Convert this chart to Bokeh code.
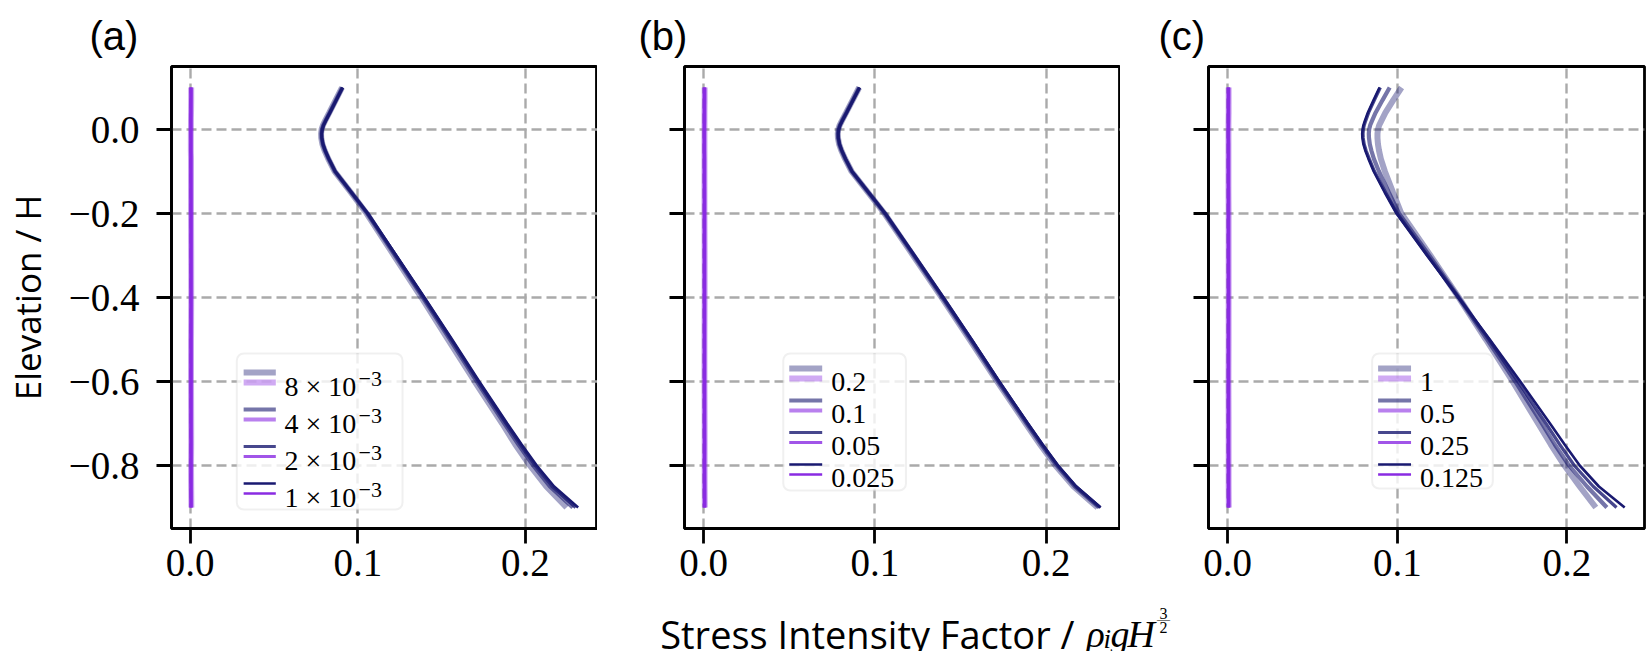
from bokeh.plotting import figure
from bokeh.layouts import row, column
from bokeh.models import (FixedTicker, CustomJSTickFormatter, Range1d,
                          BoxAnnotation, ColumnDataSource)
from bokeh.core.properties import value
from bokeh.embed import file_html
from bokeh.resources import INLINE

# ---------------- data ----------------
elevation = [0.1, 0.07, 0.04, 0.02, 0.01, 0.0, -0.01, -0.02, -0.035, -0.05, -0.07, -0.1,
             -0.15, -0.2, -0.3, -0.4, -0.5, -0.6, -0.7, -0.75, -0.8, -0.85, -0.9]

x_ticks = [0.0, 0.1, 0.2]
y_ticks = [-0.8, -0.6, -0.4, -0.2, 0.0]

# panel (a): 8e-3, 4e-3, 2e-3, 1e-3
a_labels = ["8 × 10", "4 × 10", "2 × 10", "1 × 10"]
a_exponents = ["−3", "−3", "−3", "−3"]
a_k1_8e3 = [0.0906, 0.0868, 0.0830, 0.0804, 0.0792, 0.0784, 0.0781, 0.0782, 0.0789, 0.0802,
            0.0824, 0.0862, 0.0959, 0.1053, 0.1216, 0.1380, 0.1538, 0.1698, 0.1862, 0.1940,
            0.2027, 0.2125, 0.2246]
a_k1_4e3 = [0.0908, 0.0870, 0.0832, 0.0806, 0.0794, 0.0786, 0.0783, 0.0784, 0.0791, 0.0804,
            0.0826, 0.0864, 0.0961, 0.1057, 0.1223, 0.1389, 0.1551, 0.1711, 0.1875, 0.1959,
            0.2047, 0.2147, 0.2283]
a_k1_2e3 = [0.0909, 0.0871, 0.0833, 0.0807, 0.0795, 0.0787, 0.0784, 0.0785, 0.0792, 0.0805,
            0.0827, 0.0865, 0.0962, 0.1059, 0.1227, 0.1394, 0.1558, 0.1719, 0.1885, 0.1970,
            0.2059, 0.2160, 0.2300]
a_k1_1e3 = [0.0910, 0.0872, 0.0834, 0.0808, 0.0796, 0.0788, 0.0785, 0.0786, 0.0793, 0.0806,
            0.0828, 0.0866, 0.0963, 0.1060, 0.1230, 0.1398, 0.1563, 0.1725, 0.1892, 0.1978,
            0.2068, 0.2172, 0.2315]
a_k2_8e3 = [0.0006, 0.0006, 0.0005, 0.0005, 0.0005, 0.0005, 0.0004, 0.0004, 0.0004, 0.0004,
            0.0005, 0.0005, 0.0005, 0.0005, 0.0006, 0.0006, 0.0005, 0.0005, 0.0006, 0.0006,
            0.0005, 0.0006, 0.0007]
a_k2_4e3 = [0.0005, 0.0005, 0.0005, 0.0004, 0.0004, 0.0004, 0.0004, 0.0004, 0.0004, 0.0004,
            0.0005, 0.0005, 0.0005, 0.0005, 0.0005, 0.0006, 0.0005, 0.0005, 0.0005, 0.0006,
            0.0005, 0.0005, 0.0006]
a_k2_2e3 = [0.0005, 0.0005, 0.0004, 0.0004, 0.0004, 0.0004, 0.0004, 0.0004, 0.0004, 0.0004,
            0.0004, 0.0004, 0.0005, 0.0005, 0.0005, 0.0005, 0.0005, 0.0005, 0.0005, 0.0005,
            0.0005, 0.0005, 0.0006]
a_k2_1e3 = [0.0005, 0.0004, 0.0004, 0.0004, 0.0004, 0.0004, 0.0004, 0.0004, 0.0004, 0.0004,
            0.0004, 0.0004, 0.0004, 0.0005, 0.0005, 0.0005, 0.0005, 0.0005, 0.0005, 0.0005,
            0.0005, 0.0005, 0.0005]

# panel (b): 0.2, 0.1, 0.05, 0.025
b_labels = ["0.2", "0.1", "0.05", "0.025"]
b_k1_02 = [0.0908, 0.0870, 0.0832, 0.0806, 0.0794, 0.0786, 0.0783, 0.0784, 0.0791, 0.0804,
           0.0826, 0.0864, 0.0960, 0.1056, 0.1223, 0.1390, 0.1553, 0.1714, 0.1880, 0.1964,
           0.2054, 0.2160, 0.2300]
b_k1_01 = [0.0909, 0.0871, 0.0833, 0.0807, 0.0795, 0.0787, 0.0784, 0.0785, 0.0792, 0.0805,
           0.0827, 0.0865, 0.0962, 0.1058, 0.1227, 0.1394, 0.1558, 0.1719, 0.1886, 0.1971,
           0.2061, 0.2167, 0.2309]
b_k1_005 = [0.0910, 0.0872, 0.0834, 0.0808, 0.0796, 0.0788, 0.0785, 0.0786, 0.0793, 0.0806,
            0.0828, 0.0866, 0.0963, 0.1060, 0.1230, 0.1398, 0.1563, 0.1724, 0.1891, 0.1977,
            0.2067, 0.2173, 0.2315]
b_k1_0025 = [0.0911, 0.0873, 0.0835, 0.0809, 0.0797, 0.0789, 0.0786, 0.0787, 0.0794, 0.0807,
             0.0829, 0.0867, 0.0964, 0.1061, 0.1231, 0.1399, 0.1564, 0.1726, 0.1893, 0.1979,
             0.2069, 0.2176, 0.2318]
b_k2_02 = [0.0006, 0.0006, 0.0005, 0.0005, 0.0005, 0.0005, 0.0005, 0.0005, 0.0005, 0.0005,
           0.0005, 0.0005, 0.0005, 0.0005, 0.0006, 0.0006, 0.0005, 0.0005, 0.0006, 0.0006,
           0.0006, 0.0006, 0.0007]
b_k2_01 = [0.0005, 0.0005, 0.0005, 0.0005, 0.0004, 0.0004, 0.0004, 0.0004, 0.0004, 0.0004,
           0.0005, 0.0005, 0.0005, 0.0005, 0.0005, 0.0005, 0.0005, 0.0005, 0.0005, 0.0006,
           0.0005, 0.0006, 0.0006]
b_k2_005 = [0.0005, 0.0005, 0.0004, 0.0004, 0.0004, 0.0004, 0.0004, 0.0004, 0.0004, 0.0004,
            0.0004, 0.0004, 0.0005, 0.0005, 0.0005, 0.0005, 0.0005, 0.0005, 0.0005, 0.0005,
            0.0005, 0.0005, 0.0006]
b_k2_0025 = [0.0005, 0.0004, 0.0004, 0.0004, 0.0004, 0.0004, 0.0004, 0.0004, 0.0004, 0.0004,
             0.0004, 0.0004, 0.0004, 0.0005, 0.0005, 0.0005, 0.0005, 0.0005, 0.0005, 0.0005,
             0.0005, 0.0005, 0.0005]

# panel (c): 1, 0.5, 0.25, 0.125
c_labels = ["1", "0.5", "0.25", "0.125"]
c_k1_1 = [0.1025, 0.0976, 0.0930, 0.0905, 0.0893, 0.0886, 0.0883, 0.0883, 0.0886, 0.0892,
          0.0903, 0.0927, 0.0975, 0.1024, 0.1195, 0.1362, 0.1522, 0.1680, 0.1830, 0.1905,
          0.1985, 0.2075, 0.2170]
c_k1_05 = [0.0955, 0.0913, 0.0872, 0.0850, 0.0840, 0.0834, 0.0832, 0.0833, 0.0838, 0.0847,
           0.0862, 0.0892, 0.0950, 0.1010, 0.1188, 0.1362, 0.1530, 0.1695, 0.1852, 0.1928,
           0.2012, 0.2118, 0.2235]
c_k1_025 = [0.0900, 0.0865, 0.0831, 0.0813, 0.0805, 0.0800, 0.0798, 0.0799, 0.0805, 0.0816,
            0.0835, 0.0866, 0.0931, 0.1000, 0.1178, 0.1361, 0.1540, 0.1710, 0.1876, 0.1957,
            0.2043, 0.2155, 0.2292]
c_k1_0125 = [0.0895, 0.0860, 0.0826, 0.0808, 0.0800, 0.0795, 0.0793, 0.0794, 0.0800, 0.0811,
             0.0830, 0.0861, 0.0926, 0.0995, 0.1175, 0.1360, 0.1545, 0.1725, 0.1900, 0.1986,
             0.2075, 0.2188, 0.2340]
c_k2_1 = [0.0006, 0.0006, 0.0006, 0.0005, 0.0005, 0.0005, 0.0005, 0.0005, 0.0005, 0.0005,
          0.0005, 0.0005, 0.0005, 0.0006, 0.0006, 0.0006, 0.0006, 0.0005, 0.0006, 0.0006,
          0.0006, 0.0006, 0.0007]
c_k2_05 = [0.0005, 0.0005, 0.0005, 0.0005, 0.0004, 0.0004, 0.0004, 0.0004, 0.0005, 0.0005,
           0.0005, 0.0005, 0.0005, 0.0005, 0.0005, 0.0006, 0.0005, 0.0005, 0.0005, 0.0005,
           0.0006, 0.0006, 0.0006]
c_k2_025 = [0.0005, 0.0005, 0.0004, 0.0004, 0.0004, 0.0004, 0.0004, 0.0004, 0.0004, 0.0004,
            0.0004, 0.0004, 0.0005, 0.0005, 0.0005, 0.0005, 0.0005, 0.0005, 0.0005, 0.0005,
            0.0005, 0.0005, 0.0006]
c_k2_0125 = [0.0005, 0.0004, 0.0004, 0.0004, 0.0004, 0.0004, 0.0004, 0.0004, 0.0004, 0.0004,
             0.0004, 0.0004, 0.0004, 0.0004, 0.0005, 0.0005, 0.0005, 0.0005, 0.0005, 0.0005,
             0.0005, 0.0005, 0.0005]

# ---------------- style ----------------
NAVY = "#191970"
PURPLE = "#8a2be2"
series_alpha = [0.4, 0.6, 0.8, 1.0]
series_width = [6.0, 4.2, 3.2, 2.6]
FW = 436
REF_FW = 437.0
TOP, BOTTOM = 66, 70
FH = 462
FIG_H = TOP + FH + BOTTOM
SERIF = "Liberation Serif"
SANS = "Open Sans"

minus_fmt = CustomJSTickFormatter(code="return tick.toFixed(1).replace('-', '\\u2212');")


def make_panel(k1s, k2s, labels, exps, leg, tag, tag_offset, border_left, border_right, ylabels):
    allx = [v for s in k1s + k2s for v in s]
    lo, hi = min(allx), max(allx)
    pad = 0.05 * (hi - lo)
    ylo, yhi = min(elevation), max(elevation)
    ypad = 0.05 * (yhi - ylo)
    xr = Range1d(lo - pad, hi + pad)
    yr = Range1d(ylo - ypad, yhi + ypad)
    sx = FW / (xr.end - xr.start)
    sy = FH / (yr.end - yr.start)

    def fx(px):  # reference pixels from frame left
        return xr.start + px * (FW / REF_FW) / sx

    def fy(py):  # pixels from frame top
        return yr.end - py / sy

    p = figure(width=border_left + FW + border_right, height=FIG_H, x_range=xr, y_range=yr,
               output_backend="svg", toolbar_location=None, title=tag,
               min_border_left=border_left, min_border_right=border_right,
               min_border_top=TOP, min_border_bottom=BOTTOM)
    p.background_fill_color = "white"
    p.border_fill_color = "white"
    p.outline_line_color = "black"
    p.outline_line_width = 2.8
    p.outline_line_alpha = 1.0

    p.title.text_font = "Liberation Sans"
    p.title.text_font_size = "40px"
    p.title.text_font_style = "normal"
    p.title.text_color = "black"
    p.title.align = "left"
    p.title.offset = tag_offset
    p.title.standoff = 18

    p.xaxis.ticker = FixedTicker(ticks=x_ticks)
    p.yaxis.ticker = FixedTicker(ticks=y_ticks)
    p.xaxis.formatter = minus_fmt
    p.xaxis.axis_label = None
    if ylabels:
        p.yaxis.formatter = minus_fmt
        p.yaxis.axis_label = "Elevation / H"
        p.yaxis.axis_label_text_font = SANS
        p.yaxis.axis_label_text_font_size = "35px"
        p.yaxis.axis_label_text_font_style = "normal"
        p.yaxis.axis_label_text_color = "black"
        p.yaxis.axis_label_standoff = 15
    else:
        p.yaxis.formatter = CustomJSTickFormatter(code="return '';")
        p.yaxis.axis_label = None
    for ax in (p.xaxis[0], p.yaxis[0]):
        ax.axis_line_color = "black"
        ax.axis_line_width = 2.8
        ax.major_tick_line_color = "black"
        ax.major_tick_line_width = 2.8
        ax.major_tick_in = 0
        ax.major_tick_out = 15
        ax.minor_tick_line_color = None
        ax.major_label_text_font = SERIF
        ax.major_label_text_font_size = "39px"
        ax.major_label_text_color = "black"
    p.xaxis.major_label_standoff = 6
    p.yaxis.major_label_standoff = 17
    for g in (p.xgrid[0], p.ygrid[0]):
        g.grid_line_color = "#aaaaaa"
        g.grid_line_width = 2.4
        g.grid_line_dash = "10 5"

    for i in range(4):
        p.line(k2s[i], elevation, line_color=PURPLE, line_alpha=series_alpha[i],
               line_width=series_width[i])
    for i in range(4):
        p.line(k1s[i], elevation, line_color=NAVY, line_alpha=series_alpha[i],
               line_width=series_width[i])

    # ---- legend drawn by hand: two stacked handles per entry ----
    p.add_layout(BoxAnnotation(left=fx(leg["box"][0]), right=fx(leg["box"][1]),
                               top=fy(leg["box"][2]), bottom=fy(leg["box"][3]),
                               fill_color="white", fill_alpha=0.8,
                               line_color="#cccccc", line_width=2, border_radius=7))
    ny = [leg["row0"] + i * leg["dy"] for i in range(len(labels))]
    seg = ColumnDataSource(dict(
        x0=[fx(leg["lx"][0])] * 8, x1=[fx(leg["lx"][1])] * 8,
        y=[fy(v) for v in ny] + [fy(v + 10) for v in ny],
        c=[NAVY] * 4 + [PURPLE] * 4,
        a=series_alpha * 2, w=series_width * 2))
    p.segment(x0="x0", y0="y", x1="x1", y1="y", source=seg, line_color="c",
              line_alpha="a", line_width="w", level="overlay")
    txt = ColumnDataSource(dict(x=[fx(leg["tx"])] * 4,
                                y=[fy(v + leg["tb"]) for v in ny], t=labels))
    p.text(x="x", y="y", text="t", source=txt, text_font=value(SERIF),
           text_font_size="28px", text_baseline="alphabetic", text_align="left",
           text_color="black", level="overlay")
    if exps:
        sup = ColumnDataSource(dict(x=[fx(leg["tx"])] * 4,
                                    y=[fy(v + leg["tb"] - 8) for v in ny], t=exps))
        p.text(x="x", y="y", text="t", source=sup, text_font=value(SERIF),
               text_font_size="22px", text_baseline="alphabetic", text_align="left",
               text_color="black", x_offset=74, level="overlay")
    return p


leg_a = dict(box=(67, 237, 287, 443), lx=(74, 107), tx=116, row0=306, dy=37, tb=14)
leg_b = dict(box=(99, 222, 287, 424), lx=(105, 138), tx=147, row0=302, dy=32, tb=13)
leg_c = dict(box=(164, 285, 287, 422), lx=(170, 203), tx=212, row0=302, dy=32, tb=13)

BL_A, BL_B, BL_C, BR_C = 161, 87, 88, 4
pa = make_panel([a_k1_8e3, a_k1_4e3, a_k1_2e3, a_k1_1e3],
                [a_k2_8e3, a_k2_4e3, a_k2_2e3, a_k2_1e3],
                a_labels, a_exponents, leg_a, "(a)", -82, BL_A, 0, True)
pb = make_panel([b_k1_02, b_k1_01, b_k1_005, b_k1_0025],
                [b_k2_02, b_k2_01, b_k2_005, b_k2_0025],
                b_labels, None, leg_b, "(b)", -46, BL_B, 0, False)
pc = make_panel([c_k1_1, c_k1_05, c_k1_025, c_k1_0125],
                [c_k2_1, c_k2_05, c_k2_025, c_k2_0125],
                c_labels, None, leg_c, "(c)", -50, BL_C, BR_C, False)

# ---- shared x label strip (text glyphs, baseline-anchored) ----
LW = BL_A + FW + BL_B + FW + BL_C + FW + BR_C
LH = 100
lab = figure(width=LW, height=LH, x_range=Range1d(0, LW), y_range=Range1d(0, LH),
             x_axis_type=None, y_axis_type=None, output_backend="svg",
             toolbar_location=None, min_border=0, title=None)
lab.outline_line_color = None
lab.xgrid.visible = False
lab.ygrid.visible = False
lab.background_fill_color = "white"
lab.border_fill_color = "white"
base = LH - (633 - FIG_H)
anchor = 1074
m0 = anchor + 12


def put(xs, ys, texts, font, size, style="normal", align="left"):
    lab.text(x=xs, y=ys, text=texts, text_font=value(font), text_font_size=f"{size}px",
             text_font_style=style, text_align=align, text_baseline="alphabetic",
             text_color="black")


put([anchor], [base], ["Stress Intensity Factor /"], SANS, 38, align="right")
put([m0, m0 + 24, m0 + 41], [base, base, base], ["ρ", "g", "H"], SERIF, 38, style="italic")
put([m0 + 17], [base - 5], ["i"], SERIF, 27, style="italic")
put([m0 + 77, m0 + 77], [base + 20, base + 6], ["3", "2"], SERIF, 16, align="center")
put([m0 + 77], [base + 15], ["—"], SERIF, 13, align="center")

layout = column(row(pa, pb, pc), lab)
open("out.html", "w").write(file_html(layout, INLINE))
